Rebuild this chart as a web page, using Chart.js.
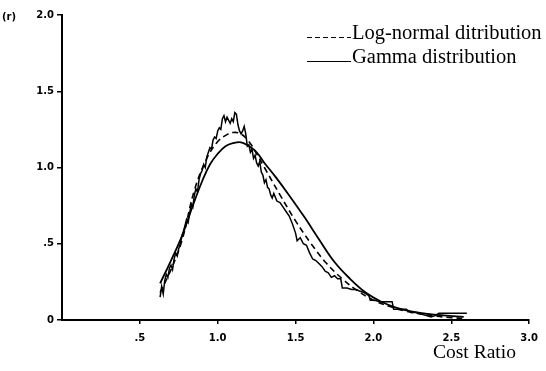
<!DOCTYPE html>
<html>
<head>
<meta charset="utf-8">
<script src="https://cdn.jsdelivr.net/npm/chart.js@4.4.0/dist/chart.umd.min.js"></script>
<style>
  html, body { margin: 0; padding: 0; background: #fff; }
  #wrap { position: relative; width: 546px; height: 371px; }
</style>
</head>
<body>
<div id="wrap"><canvas id="chart" width="546" height="371"></canvas></div>
<script>
// axis ticks
const xTicks = [0.5, 1.0, 1.5, 2.0, 2.5, 3.0];
const xTickLabels = [".5", "1.0", "1.5", "2.0", "2.5", "3.0"];
const yTicks = [0, 0.5, 1.0, 1.5, 2.0];
const yTickLabels = ["0", ".5", "1.0", "1.5", "2.0"];

// fitted gamma curve
const gammaX = [0.63, 0.70, 0.77, 0.84, 0.90, 0.95, 1.00, 1.05, 1.10, 1.15, 1.20, 1.25, 1.30, 1.37, 1.45,
  1.56, 1.65, 1.75, 1.85, 1.95, 2.05, 2.15, 2.25, 2.35, 2.45, 2.58];
const gammaY = [0.24, 0.39, 0.55, 0.75, 0.91, 1.02, 1.09, 1.14, 1.16, 1.165, 1.14, 1.10, 1.03, 0.94, 0.83,
  0.67, 0.53, 0.38, 0.27, 0.18, 0.12, 0.08, 0.055, 0.04, 0.03, 0.02];

// fitted log-normal curve
const lognormX = [0.63, 0.70, 0.77, 0.85, 0.93, 1.00, 1.05, 1.10, 1.15, 1.20, 1.25, 1.30, 1.40, 1.50,
  1.60, 1.70, 1.80, 1.90, 2.00, 2.10, 2.20, 2.30, 2.40, 2.50, 2.58];
const lognormY = [0.18, 0.33, 0.52, 0.85, 1.06, 1.17, 1.21, 1.23, 1.22, 1.17, 1.09, 1.00, 0.82, 0.65,
  0.50, 0.37, 0.27, 0.19, 0.13, 0.09, 0.06, 0.04, 0.025, 0.015, 0.01];

// observed (jagged) frequency curve
const obsX = [0.63, 0.64, 0.65, 0.66, 0.67, 0.68, 0.69, 0.70, 0.71, 0.72, 0.73, 0.74, 0.75, 0.76, 0.77, 0.78,
  0.79, 0.80, 0.81, 0.82, 0.83, 0.84, 0.85, 0.86, 0.87, 0.88, 0.89, 0.90, 0.91, 0.92, 0.93, 0.94, 0.95,
  0.96, 0.97, 0.98, 0.99, 1.00, 1.01, 1.02, 1.03, 1.04, 1.05, 1.06, 1.07, 1.08, 1.09, 1.10, 1.11, 1.12,
  1.13, 1.14, 1.15, 1.16, 1.17, 1.18, 1.19, 1.20, 1.21, 1.22, 1.23, 1.24, 1.25, 1.26, 1.27, 1.28, 1.29,
  1.30, 1.31, 1.32, 1.33, 1.34, 1.35, 1.36, 1.38, 1.40, 1.42, 1.44, 1.46, 1.48, 1.50, 1.51, 1.53, 1.55,
  1.57, 1.59, 1.61, 1.63, 1.65, 1.67, 1.69, 1.71, 1.73, 1.75, 1.77, 1.79, 1.80, 1.83, 1.86, 1.89, 1.91,
  1.94, 1.97, 1.98, 2.01, 2.04, 2.08, 2.12, 2.13, 2.17, 2.21, 2.24, 2.28, 2.30, 2.34, 2.37, 2.40, 2.42,
  2.50, 2.60];
const obsY = [0.15, 0.22, 0.17, 0.26, 0.30, 0.28, 0.34, 0.36, 0.33, 0.40, 0.44, 0.42, 0.47, 0.50, 0.55, 0.58,
  0.62, 0.66, 0.64, 0.70, 0.76, 0.74, 0.82, 0.86, 0.84, 0.92, 0.96, 0.98, 1.02, 1.00, 1.07, 1.10, 1.13,
  1.12, 1.18, 1.20, 1.19, 1.24, 1.26, 1.25, 1.32, 1.34, 1.30, 1.33, 1.31, 1.29, 1.32, 1.30, 1.36, 1.35,
  1.28, 1.24, 1.22, 1.24, 1.27, 1.22, 1.14, 1.15, 1.10, 1.12, 1.06, 1.08, 1.03, 1.01, 1.04, 0.97, 0.95,
  0.90, 0.92, 0.87, 0.86, 0.82, 0.80, 0.83, 0.78, 0.77, 0.74, 0.71, 0.68, 0.63, 0.57, 0.52, 0.54, 0.50,
  0.49, 0.44, 0.40, 0.39, 0.37, 0.35, 0.32, 0.31, 0.28, 0.29, 0.27, 0.27, 0.21, 0.21, 0.20, 0.20, 0.19,
  0.18, 0.16, 0.13, 0.13, 0.12, 0.12, 0.12, 0.07, 0.07, 0.07, 0.05, 0.05, 0.04, 0.03, 0.02, 0.03, 0.045,
  0.045, 0.045];

const legendItems = [
  { text: "Log-normal ditribution", dash: [5, 3] },
  { text: "Gamma distribution", dash: [] }
];

const pts = (xs, ys) => xs.map((x, i) => ({ x, y: ys[i] }));

const tickFont = { family: "DejaVu Sans", size: 10, weight: "bold" };

// extra text: "(r)", "Cost Ratio" and the legend
const extras = {
  id: "extras",
  afterDraw(chart) {
    const ctx = chart.ctx;
    ctx.save();
    ctx.fillStyle = "#000";
    ctx.strokeStyle = "#000";
    ctx.font = "bold 10px 'DejaVu Sans'";
    ctx.textBaseline = "middle";
    ctx.textAlign = "left";
    ctx.fillText("(r)", 2, 17);

    ctx.font = "19.5px 'Liberation Serif'";
    ctx.textBaseline = "alphabetic";
    ctx.fillText("Cost Ratio", 433, 358);

    legendItems.forEach((item, i) => {
      const base = 39 + i * 24;
      ctx.beginPath();
      ctx.lineWidth = 1.2;
      ctx.setLineDash(item.dash);
      ctx.moveTo(307, base - 1.5);
      ctx.lineTo(351, base - 1.5);
      ctx.stroke();
      ctx.setLineDash([]);
      ctx.font = "20.5px 'Liberation Serif'";
      ctx.fillText(item.text, 352, base);
    });
    ctx.restore();
  }
};

new Chart(document.getElementById("chart"), {
  type: "line",
  data: {
    datasets: [
      { data: pts(obsX, obsY), borderColor: "#000", borderWidth: 1.5, pointRadius: 0, tension: 0 },
      { data: pts(lognormX, lognormY), borderColor: "#000", borderWidth: 1.6, borderDash: [6, 4], pointRadius: 0, tension: 0.4 },
      { data: pts(gammaX, gammaY), borderColor: "#000", borderWidth: 1.8, pointRadius: 0, tension: 0.4 }
    ]
  },
  plugins: [extras],
  options: {
    responsive: false,
    animation: false,
    devicePixelRatio: 1,
    layout: { padding: { top: 15, right: 16, left: 0, bottom: 0 } },
    plugins: { legend: { display: false }, tooltip: { enabled: false } },
    scales: {
      x: {
        type: "linear",
        min: 0, max: 3,
        afterBuildTicks: s => { s.ticks = xTicks.map(v => ({ value: v })); },
        afterFit: s => { s.height = 51; },
        ticks: {
          font: tickFont, color: "#000", padding: 8,
          callback: v => xTickLabels[xTicks.indexOf(v)] ?? ""
        },
        grid: { drawOnChartArea: false, drawTicks: true, tickLength: 4, color: "#000", lineWidth: 1.5 },
        border: { color: "#000", width: 2 }
      },
      y: {
        min: 0, max: 2,
        afterBuildTicks: s => { s.ticks = yTicks.map(v => ({ value: v })); },
        afterFit: s => { s.width = 62; },
        ticks: {
          font: tickFont, color: "#000", padding: 3,
          callback: v => yTickLabels[yTicks.indexOf(v)] ?? ""
        },
        grid: { drawOnChartArea: false, drawTicks: true, tickLength: 5, color: "#000", lineWidth: 1.5 },
        border: { color: "#000", width: 2 }
      }
    }
  }
});
</script>
</body>
</html>
